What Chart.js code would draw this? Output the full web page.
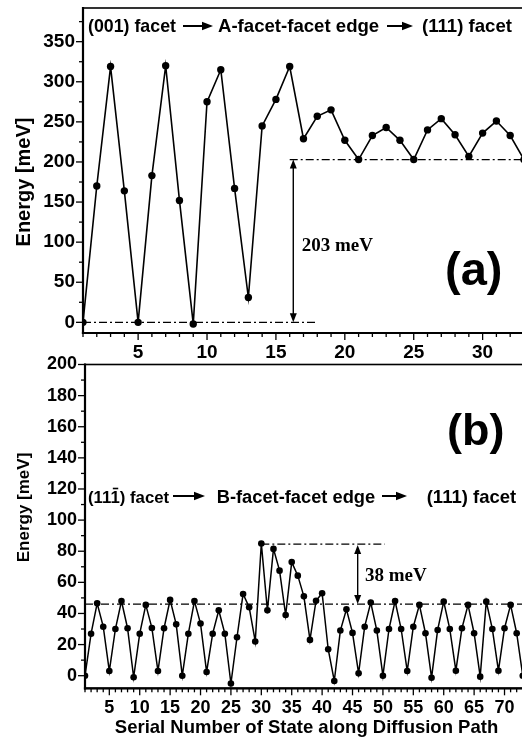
<!DOCTYPE html>
<html><head><meta charset="utf-8">
<script src="https://cdn.jsdelivr.net/npm/chart.js@4.4.1/dist/chart.umd.min.js"></script>
<style>
html,body{margin:0;padding:0;background:#fff;overflow:hidden;}
#wrap{position:relative;width:522px;height:738px;overflow:hidden;background:#fff;}
canvas{position:absolute;left:0;}
</style></head><body>
<div id="wrap">
<canvas id="cA" width="530" height="366" style="top:0px;width:530px;height:366px"></canvas>
<canvas id="cB" width="530" height="393" style="top:345px;width:530px;height:393px"></canvas>
</div>
<script>
// ---------- data: panel (a) ----------
const topStates = [1,2,3,4,5,6,7,8,9,10,11,12,13,14,15,16,17,18,19,20,21,22,23,24,25,26,27,28,29,30,31,32,33];
const topEnergy = [0,170,319,164,0,183,320,152,-2,275,315,167,31,245,278,319,229,257,265,227,203,233,243,227,203,240,254,234,207,236,251,233,203];
const topXTicks = [5,10,15,20,25,30];
const topYTicks = [0,50,100,150,200,250,300,350];
const topRefLevels = [0,203];       // dash-dot reference levels (meV)
const topBarrier = 203;             // annotated barrier (meV)

// ---------- data: panel (b) ----------
const botStates = [1,2,3,4,5,6,7,8,9,10,11,12,13,14,15,16,17,18,19,20,21,22,23,24,25,26,27,28,29,30,31,32,33,34,35,36,37,38,39,40,41,42,43,44,45,46,47,48,49,50,51,52,53,54,55,56,57,58,59,60,61,62,63,64,65,66,67,68,69,70,71,72,73];
const botEnergy = [0,27,46.5,31.5,3,30,48,30.5,-1,27,45.5,30.7,3,30.5,48.7,33,0,27,48,33.5,2.4,27,42,27,-5,24.7,52.5,44,22,85,42,81.5,67.5,39,73,64.3,51,23,48.2,53,17,-3.4,29,42.7,27.5,1.5,31.5,47,29,0,30,48,30,3,31.5,45.5,27.3,-1.3,29.4,47.6,30,3.2,30.5,45.5,27.3,-0.6,47.6,30,3.2,30.5,45.5,27.3,0];
const botXTicks = [5,10,15,20,25,30,35,40,45,50,55,60,65,70];
const botYTicks = [0,20,40,60,80,100,120,140,160,180,200];
const botRefLevels = [46,84.5];
const botBarrier = 38;

const SANS = '"Liberation Sans", Arial, sans-serif';
const SERIF = '"Liberation Serif", "Times New Roman", serif';

function line(ctx,x0,y0,x1,y1){ctx.beginPath();ctx.moveTo(x0,y0);ctx.lineTo(x1,y1);ctx.stroke();}
function hArrow(ctx,x0,x1,y){
  ctx.lineWidth=2; line(ctx,x0,y,x1-8,y);
  ctx.beginPath();ctx.moveTo(x1,y);ctx.lineTo(x1-11,y-4.2);ctx.lineTo(x1-11,y+4.2);ctx.closePath();ctx.fill();
}
function vDoubleArrow(ctx,x,yTop,yBot){
  ctx.lineWidth=1.4; line(ctx,x,yTop+5,x,yBot-5);
  ctx.beginPath();ctx.moveTo(x,yTop);ctx.lineTo(x-3.5,yTop+9);ctx.lineTo(x+3.5,yTop+9);ctx.closePath();ctx.fill();
  ctx.beginPath();ctx.moveTo(x,yBot);ctx.lineTo(x-3.5,yBot-9);ctx.lineTo(x+3.5,yBot-9);ctx.closePath();ctx.fill();
}

function decor(cfg){
  return {
    id:'decor',
    beforeDatasetsDraw(chart){
      const {ctx,chartArea:a,scales:{x,y}}=chart;
      ctx.save();
      ctx.beginPath();ctx.rect(a.left,a.top,a.right-a.left,a.bottom-a.top);ctx.clip();
      ctx.strokeStyle='#000';ctx.lineWidth=1.3;ctx.setLineDash([8,3,2,3]);
      cfg.refLines.forEach(r=>{
        line(ctx,x.getPixelForValue(r.x0),y.getPixelForValue(r.y),x.getPixelForValue(r.x1),y.getPixelForValue(r.y));
      });
      ctx.restore();
    },
    afterDraw(chart){
      const {ctx,chartArea:a,scales:{x,y}}=chart;
      ctx.save();
      ctx.strokeStyle='#000';ctx.fillStyle='#000';ctx.setLineDash([]);
      // frame
      ctx.lineWidth=1.6;ctx.strokeRect(a.left,a.top,a.right-a.left,a.bottom-a.top);
      ctx.lineWidth=2.2;
      line(ctx,a.left,a.top-1,a.left,a.bottom+1.1);
      line(ctx,a.left-1.1,a.bottom,a.right+2,a.bottom);
      // ticks
      ctx.lineWidth=1.3;
      for(let v=Math.ceil(x.min);v<=x.max;v++){
        const px=x.getPixelForValue(v);
        const major=(v%cfg.xMajor===0);
        line(ctx,px,a.bottom,px,a.bottom+(major?7:4));
      }
      for(let v=Math.ceil(y.min/cfg.yMinor)*cfg.yMinor;v<=y.max;v+=cfg.yMinor){
        const py=y.getPixelForValue(v);
        const major=(Math.round(v)%cfg.yMajor===0);
        line(ctx,a.left,py,a.left-(major?7:4),py);
      }
      // vertical double arrow
      const ar=cfg.vArrow;
      vDoubleArrow(ctx,x.getPixelForValue(ar.x),y.getPixelForValue(ar.y1),y.getPixelForValue(ar.y0));
      // y title
      ctx.save();
      ctx.translate(cfg.yTitle.x,cfg.yTitle.y);ctx.rotate(-Math.PI/2);
      ctx.font='bold '+cfg.yTitle.size+'px '+SANS;ctx.textAlign='center';ctx.textBaseline='middle';
      ctx.fillText('Energy [meV]',0,0);
      ctx.restore();
      // path annotation
      ctx.textBaseline='alphabetic';ctx.textAlign='left';
      const an=cfg.path;
      an.parts.forEach(p=>{ctx.font='bold '+p.size+'px '+SANS;ctx.fillText(p.t,p.x,an.base);});
      an.arrows.forEach(p=>hArrow(ctx,p[0],p[1],an.arrowY));
      if(an.overline){
        const p=an.parts[0];
        ctx.font='bold '+p.size+'px '+SANS;
        const w0=ctx.measureText('(11').width, w1=ctx.measureText('(111').width;
        ctx.lineWidth=1.6;line(ctx,p.x+w0+1.5,an.base-14.5,p.x+w1-1.5,an.base-14.5);
      }
      // barrier label
      ctx.font='bold 19px '+SERIF;
      ctx.fillText(cfg.barrierText.t,cfg.barrierText.x,cfg.barrierText.y);
      // panel letter
      ctx.font='bold '+cfg.letter.size+'px '+SANS;
      ctx.fillText(cfg.letter.t,cfg.letter.x,cfg.letter.y);
      // x title
      if(cfg.xTitle){
        ctx.font='bold 18.5px '+SANS;ctx.textAlign='center';
        ctx.fillText(cfg.xTitle.t,cfg.xTitle.x,cfg.xTitle.y);
      }
      ctx.restore();
    }
  };
}

function tickFont(sz){return {family:SANS,size:sz,weight:'bold'};}

// ---------- panel (a) ----------
new Chart(document.getElementById('cA'),{
  type:'line',
  data:{datasets:[{
    data:topStates.map((s,i)=>({x:s,y:topEnergy[i]})),
    borderColor:'#000',backgroundColor:'#000',borderWidth:1.6,
    pointRadius:3.7,pointBackgroundColor:'#000',pointBorderWidth:0,tension:0
  }]},
  options:{
    responsive:false,animation:false,
    layout:{padding:{top:8,left:0,right:7,bottom:0}},
    plugins:{legend:{display:false},tooltip:{enabled:false}},
    scales:{
      x:{type:'linear',min:1,max:32.93,
        afterBuildTicks:s=>{s.ticks=topXTicks.map(v=>({value:v}));},
        afterFit:s=>{s.height=33;s.paddingLeft=0;s.paddingRight=0;},
        grid:{display:false,drawTicks:false},border:{display:false},
        ticks:{padding:8.6,font:tickFont(19),color:'#000',maxRotation:0,autoSkip:false}},
      y:{type:'linear',min:-13.3,max:392,
        afterBuildTicks:s=>{s.ticks=topYTicks.map(v=>({value:v}));},
        afterFit:s=>{s.width=83;s.paddingTop=0;s.paddingBottom=0;},
        grid:{display:false,drawTicks:false},border:{display:false},
        ticks:{padding:8,font:tickFont(19),color:'#000',autoSkip:false}}
    }
  },
  plugins:[decor({
    xMajor:5,yMajor:50,yMinor:25,
    refLines:[{x0:1,x1:18,y:topRefLevels[0]},{x0:16,x1:34,y:topRefLevels[1]}],
    vArrow:{x:16.26,y0:topRefLevels[0],y1:topRefLevels[0]+topBarrier},
    yTitle:{x:24,y:182,size:20},
    path:{base:31.5,arrowY:26,
      parts:[{t:'(001) facet',x:88,size:17.8},{t:'A-facet-facet edge',x:218,size:18.6},{t:'(111) facet',x:422,size:18.6}],
      arrows:[[183,213],[387,413]]},
    barrierText:{t:topBarrier+' meV',x:301.7,y:250.5},
    letter:{t:'(a)',x:445,y:285,size:47}
  })]
});

// ---------- panel (b) ----------
const OFF=345;
new Chart(document.getElementById('cB'),{
  type:'line',
  data:{datasets:[{
    data:botStates.map((s,i)=>({x:s,y:botEnergy[i]})),
    borderColor:'#000',backgroundColor:'#000',borderWidth:1.5,
    pointRadius:3.3,pointBackgroundColor:'#000',pointBorderWidth:0,tension:0
  }]},
  options:{
    responsive:false,animation:false,
    layout:{padding:{top:19.5,left:0,right:7,bottom:0}},
    plugins:{legend:{display:false},tooltip:{enabled:false}},
    scales:{
      x:{type:'linear',min:1,max:73.04,
        afterBuildTicks:s=>{s.ticks=botXTicks.map(v=>({value:v}));},
        afterFit:s=>{s.height=49.7;s.paddingLeft=0;s.paddingRight=0;},
        grid:{display:false,drawTicks:false},border:{display:false},
        ticks:{padding:9.3,font:tickFont(18),color:'#000',maxRotation:0,autoSkip:false}},
      y:{type:'linear',min:-8.1,max:200,
        afterBuildTicks:s=>{s.ticks=botYTicks.map(v=>({value:v}));},
        afterFit:s=>{s.width=85;s.paddingTop=0;s.paddingBottom=0;},
        grid:{display:false,drawTicks:false},border:{display:false},
        ticks:{padding:8,font:tickFont(18),color:'#000',autoSkip:false}}
    }
  },
  plugins:[decor({
    xMajor:5,yMajor:20,yMinor:10,
    refLines:[{x0:1,x1:75,y:botRefLevels[0]},{x0:30,x1:50.3,y:botRefLevels[1]}],
    vArrow:{x:45.85,y0:botRefLevels[0],y1:botRefLevels[0]+botBarrier},
    yTitle:{x:24,y:507.5-OFF,size:17},
    path:{base:503-OFF,arrowY:496-OFF,overline:true,
      parts:[{t:'(111) facet',x:88,size:16.8},{t:'B-facet-facet edge',x:216.7,size:18.3},{t:'(111) facet',x:426.7,size:18.5}],
      arrows:[[173,205],[382,407]]},
    barrierText:{t:botBarrier+' meV',x:365,y:580.7-OFF},
    letter:{t:'(b)',x:447,y:445-OFF,size:45},
    xTitle:{t:'Serial Number of State along Diffusion Path',x:306.5,y:733-OFF}
  })]
});
</script>
</body></html>
